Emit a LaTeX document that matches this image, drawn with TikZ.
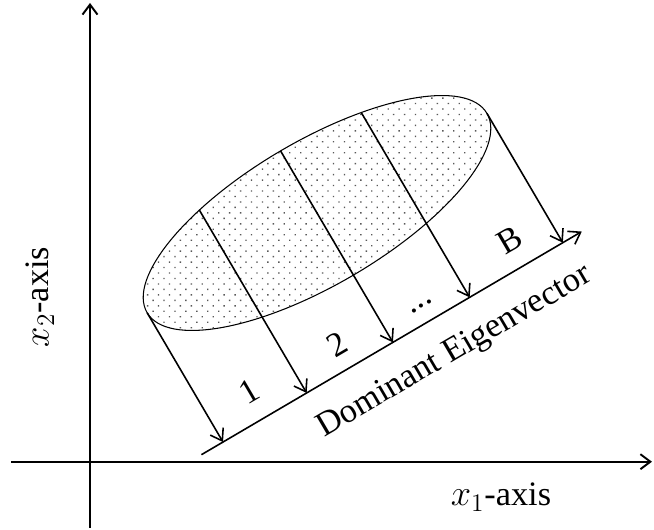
\documentclass[tikz,border=0pt]{standalone}
\usepackage{fontspec}
\setmainfont{Liberation Serif}
\usepackage{tikz}
\usetikzlibrary{arrows.meta,patterns.meta}

\tikzset{
  axis/.style={line width=1.1pt, -{Straight Barb[length=2mm,width=3mm]}},
  proj/.style={line width=0.9pt, -{Straight Barb[length=2.2mm,width=3mm]}},
  lbl/.style={rotate=30.4, anchor=base, inner sep=0pt},
}

\begin{document}
\begin{tikzpicture}[font=\fontsize{19.5}{23}\selectfont]
\useasboundingbox (0,0) rectangle (13.08,10.6);
% axes
\coordinate (ybot) at (1.8,0.04);
\coordinate (ytop) at (1.8,10.54);
\coordinate (xleft) at (0.22,1.366);
\coordinate (xright) at (13.04,1.366);
\draw [axis] (ybot)--(ytop);
\draw [axis] (xleft)--(xright);
\node (xlab) at (10.02,0.66) {$x_1$-axis};
\node[rotate=90] (ylab) at (0.8,4.66) {$x_2$-axis};
% data cloud and its projection
\begin{scope}[shift={(6.34,6.34)}, rotate=30.4]
\fill [pattern={Dots[distance=4.4pt,radius=0.55pt,angle=45]}, pattern color=black!65]
  (0,0) ellipse [x radius=3.94, y radius=1.44];
\draw [line width=0.6pt] (0,0) ellipse [x radius=3.94, y radius=1.44];
\coordinate (ev0) at (-4.44,-3.0);
\coordinate (ev1) at (4.38,-3.0);
\draw [proj] (ev0)--(ev1);
\foreach \u [count=\i] in {-3.94,-2.0,0,1.78,3.94}{
  \coordinate (s\i) at (\u,{1.44*sqrt(max(0,1-(\u/3.94)^2))});
  \coordinate (t\i) at (\u,-3.0);
  \draw [proj] (s\i)--(t\i);
}
\node[lbl] (b1) at (-2.98,-2.62) {1};
\node[lbl] (b2) at (-0.98,-2.7) {2};
\node[lbl] (b3) at (0.86,-2.7) {...};
\node[lbl] (b4) at (3.04,-2.64) {B};
\node[rotate=30.4] (evlab) at (0.97,-3.8) {Dominant Eigenvector};
\end{scope}
\end{tikzpicture}
\end{document}
